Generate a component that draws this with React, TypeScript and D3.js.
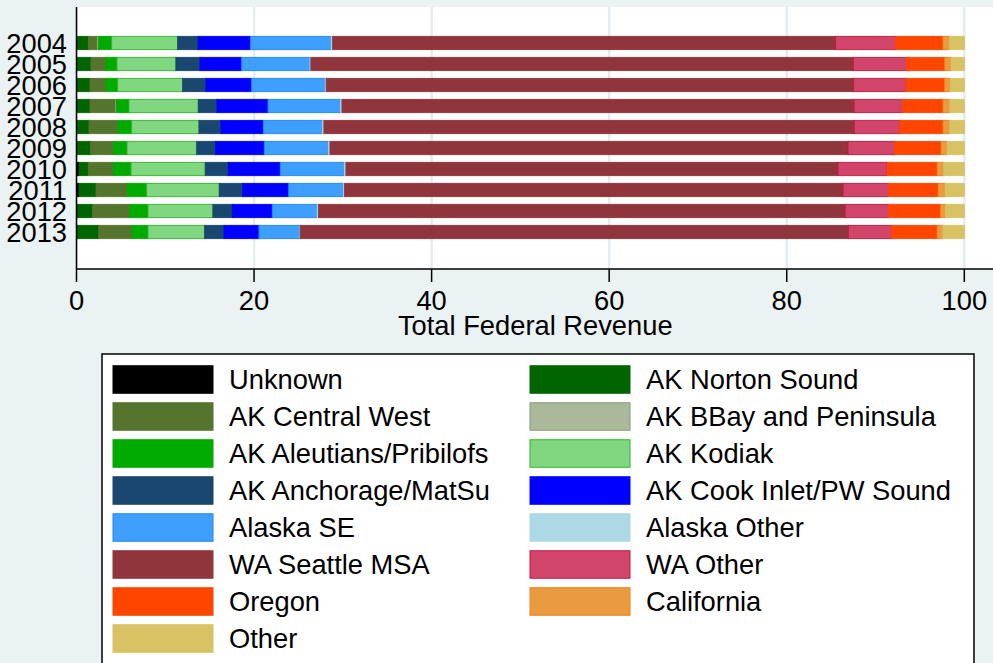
import React, { useEffect } from 'react';
import * as d3 from 'd3';

const years = ['2004', '2005', '2006', '2007', '2008', '2009', '2010', '2011', '2012', '2013'];

const seriesNames = [
  'Unknown', 'AK Norton Sound', 'AK Central West', 'AK BBay and Peninsula',
  'AK Aleutians/Pribilofs', 'AK Kodiak', 'AK Anchorage/MatSu', 'AK Cook Inlet/PW Sound',
  'Alaska SE', 'Alaska Other', 'WA Seattle MSA', 'WA Other', 'Oregon', 'California', 'Other',
];

const unknown = [0, 0.05, 0.05, 0.05, 0.05, 0.05, 0.28, 0.28, 0.1, 0.1];
const nortonSound = [1.33, 1.58, 1.47, 1.47, 1.36, 1.55, 1.05, 1.92, 1.72, 2.4];
const centralWest = [1.01, 1.66, 1.77, 2.89, 3.23, 2.59, 2.86, 3.52, 4.17, 3.75];
const bbayPeninsula = [0.16, 0, 0, 0.09, 0, 0, 0, 0, 0, 0];
const aleutians = [1.46, 1.27, 1.35, 1.41, 1.57, 1.5, 1.95, 2.18, 2.06, 1.8];
const kodiak = [7.44, 6.64, 7.32, 7.81, 7.59, 7.85, 8.36, 8.18, 7.32, 6.39];
const anchorage = [2.3, 2.7, 2.62, 2.1, 2.47, 2.14, 2.6, 2.64, 2.18, 2.17];
const cookInlet = [5.9, 4.7, 5.15, 5.75, 4.77, 5.47, 5.85, 5.18, 4.5, 3.94];
const alaskaSE = [9.1, 7.7, 8.29, 8.18, 6.69, 7.25, 7.25, 6.19, 5.07, 4.62];
const alaskaOther = [0.15, 0.1, 0.1, 0.15, 0.14, 0.15, 0.15, 0.11, 0.15, 0.03];
const seattle = [56.65, 61.1, 59.42, 57.69, 59.73, 58.35, 55.44, 56.15, 59.31, 61.74];
const waOther = [6.75, 6.0, 5.86, 5.45, 5.14, 5.27, 5.51, 5.11, 4.88, 4.86];
const oregon = [5.35, 4.3, 4.39, 4.56, 4.86, 5.22, 5.64, 5.59, 5.86, 5.14];
const california = [0.75, 0.7, 0.63, 0.77, 0.77, 0.67, 0.75, 0.79, 0.56, 0.64];
const other = [1.65, 1.5, 1.58, 1.63, 1.63, 1.94, 2.31, 2.16, 2.12, 2.42];

const seriesValues = [
  unknown, nortonSound, centralWest, bbayPeninsula, aleutians, kodiak, anchorage,
  cookInlet, alaskaSE, alaskaOther, seattle, waOther, oregon, california, other,
];

const fills = [
  '#000000', '#006400', '#55752f', '#aab997', '#00ab00', '#80d780', '#1a476f',
  '#0000ff', '#3f9fff', '#add8e6', '#90353b', '#d1456a', '#ff4500', '#ea9b40', '#d8c263',
];
const strokes = [
  '#000000', '#006400', '#55752f', '#8a9a78', '#00ab00', '#2fb52f', '#1a476f',
  '#0000ff', '#1f86f0', '#add8e6', '#90353b', '#c8143c', '#ff4500', '#e8841c', '#d8c263',
];

const xTicks = [0, 20, 40, 60, 80, 100];

const W = 993;
const H = 663;
const FONT = '"Liberation Sans", Arial, sans-serif';
const FS = 27.3;

export default function App() {
  useEffect(() => {
    document.body.style.margin = '0';
  }, []);

  const x = d3.scaleLinear().domain([0, 100]).range([76.5, 964.3]);
  const y = d3.scalePoint<string>().domain(years).range([43, 232]);
  const barH = 13.3;

  const table = years.map((yr, i) => {
    const row: Record<string, any> = { year: yr };
    seriesNames.forEach((s, j) => { row[s] = seriesValues[j][i]; });
    return row;
  });
  const stacked = d3.stack<any>().keys(seriesNames)(table);

  const plotTop = 7;
  const axisY = 269;
  const plotRight = 994;

  const legX = 102;
  const legY = 354;
  const colX = [113, 530];
  const rowStep = 37;
  const sw = 100;
  const sh = 27.5;

  return (
    <svg width={W} height={H} style={{ position: 'absolute', left: 0, top: 0, display: 'block' }}
      fontFamily={FONT}>
      <rect x={0} y={0} width={W} height={H} fill="#eaf2f3" />
      <rect x={x(0)} y={plotTop} width={plotRight - x(0)} height={axisY - plotTop} fill="#ffffff" />
      {xTicks.map((t) => (
        <line key={'g' + t} x1={x(t)} x2={x(t)} y1={plotTop} y2={axisY} stroke="#e4ecef" strokeWidth={2.5} />
      ))}
      {stacked.map((layer, j) => (
        <g key={seriesNames[j]}>
          {layer.map((d, i) => {
            const w = x(d[1]) - x(d[0]);
            if (w <= 0) return null;
            return (
              <rect key={i} x={x(d[0])} y={(y(years[i]) as number) - barH / 2} width={w} height={barH}
                fill={fills[j]} stroke={strokes[j]} strokeWidth={0.9} />
            );
          })}
        </g>
      ))}
      <line x1={x(0)} x2={x(0)} y1={plotTop} y2={axisY} stroke="#000" strokeWidth={1.5} />
      <line x1={x(0)} x2={plotRight} y1={axisY} y2={axisY} stroke="#000" strokeWidth={1.5} />
      {xTicks.map((t) => (
        <g key={'t' + t}>
          <line x1={x(t)} x2={x(t)} y1={axisY} y2={axisY + 13} stroke="#000" strokeWidth={1.5} />
          <text x={x(t)} y={309.5} textAnchor="middle" fontSize={FS} fill="#000">{t}</text>
        </g>
      ))}
      <text x={(x(0) + plotRight) / 2} y={334.5} textAnchor="middle" fontSize={FS} fill="#000">Total Federal Revenue</text>
      {years.map((yr) => (
        <text key={yr} x={67} y={(y(yr) as number) + 9.8} textAnchor="end" fontSize={FS} fill="#000">{yr}</text>
      ))}
      <rect x={legX} y={legY} width={872} height={H + 20 - legY} fill="#ffffff" stroke="#000" strokeWidth={1.5} />
      {seriesNames.map((s, i) => {
        const cx = colX[i % 2];
        const cy = 379.5 + Math.floor(i / 2) * rowStep;
        return (
          <g key={'l' + s}>
            <rect x={cx} y={cy - sh / 2} width={sw} height={sh} fill={fills[i]} stroke={strokes[i]} strokeWidth={1} />
            <text x={cx + 116} y={cy + 9.8} fontSize={FS} fill="#000">{s}</text>
          </g>
        );
      })}
    </svg>
  );
}
